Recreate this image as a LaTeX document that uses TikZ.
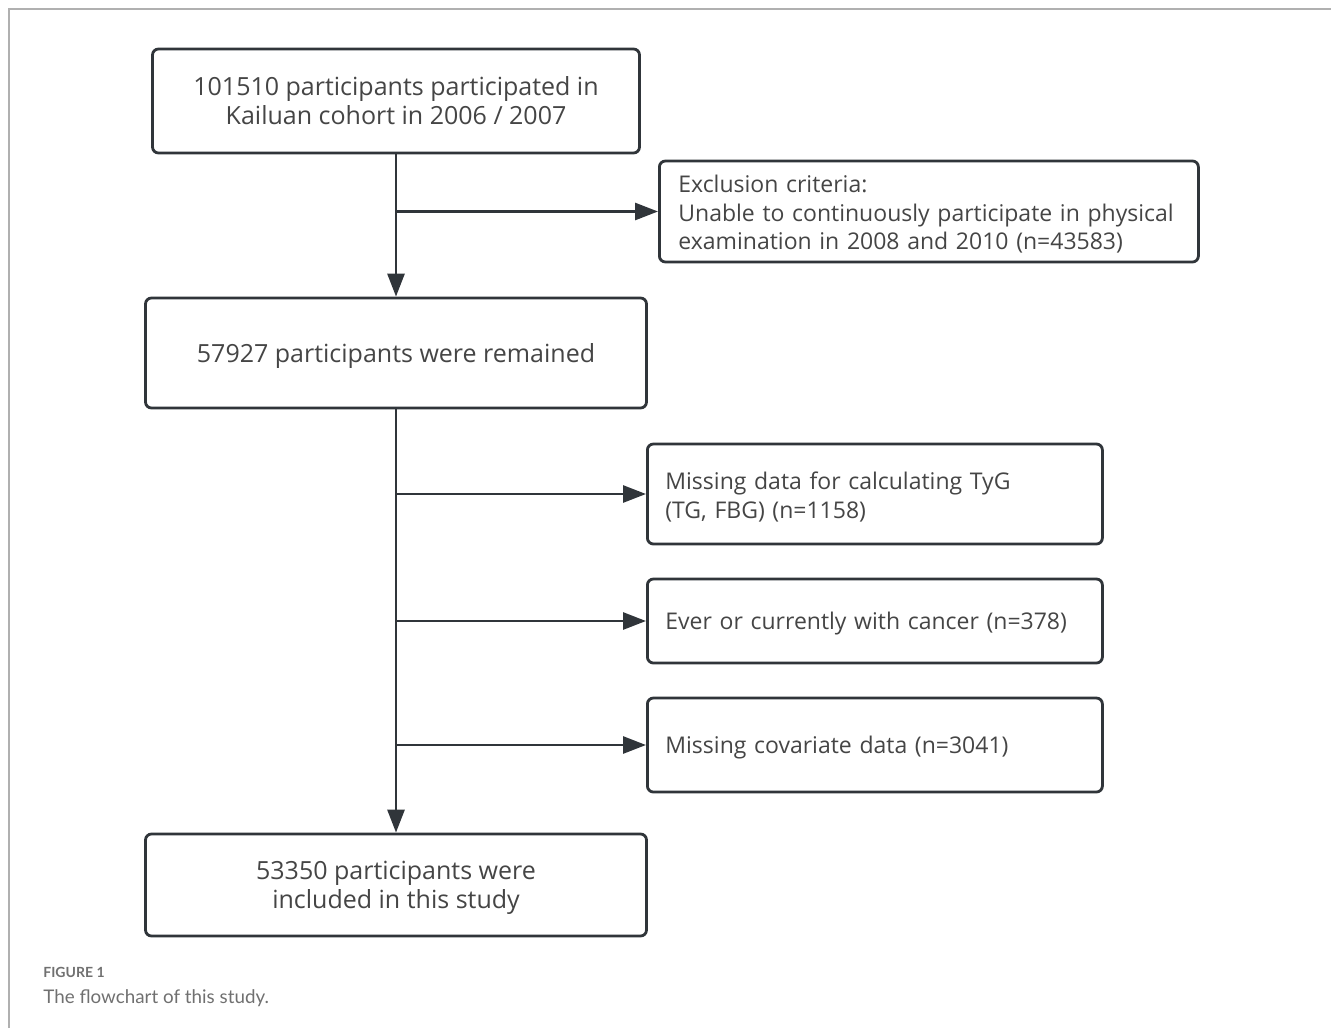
\documentclass[tikz,border=0pt]{standalone}
\usepackage{fontspec}
\setmainfont{Open Sans}
\newfontfamily\capfont{Lato}
\usetikzlibrary{arrows.meta,positioning}
\definecolor{edgecol}{HTML}{30353A}
\definecolor{txtcol}{HTML}{454545}
\definecolor{capcol}{HTML}{707070}
\definecolor{framecol}{HTML}{B0B0B0}
\begin{document}
\begin{tikzpicture}[x=0.5pt,y=-0.5pt,
  box/.style={draw=edgecol, line width=1.4pt, rounded corners=3pt, fill=white,
              text=txtcol, font=\fontsize{11.5}{14.2}\selectfont, align=center},
  mainbox/.style={box, text depth=0pt, font=\fontsize{12.5}{14.5}\selectfont},
  sidebox/.style={box, align=left, anchor=west, text height=11.7pt},
  exbox/.style={sidebox, inner xsep=9pt, text width=209.5pt, minimum height=#1},
  arr/.style={-{Triangle[length=11.5pt,width=8.5pt]}, line width=1.4pt, draw=edgecol},
  frame/.style={draw=framecol, line width=1pt}]
\useasboundingbox (0,0) rectangle (1331,1028);
% ---- frame of the figure ----
\draw[frame] (9,1028) -- (9,9) -- (1331,9);
% ---- main column ----
\node[mainbox, minimum width=243.5pt, minimum height=52pt] (start) at (396,101)
  {101510 participants participated in\\Kailuan cohort in 2006 / 2007};
\node[mainbox, minimum width=250.5pt, minimum height=55pt] (remain) at (396,353)
  {57927 participants were remained};
\node[mainbox, minimum width=250.5pt, minimum height=51pt] (final) at (396,885)
  {53350 participants were\\included in this study};
% ---- exclusions ----
\node[sidebox, inner xsep=9.5pt, text width=250.5pt,
      minimum height=50.5pt] (excl) at (658,211.5)
  {Exclusion criteria:\\Unable to continuously participate in physical\\examination in 2008 and 2010 (n=43583)};
\node[exbox=50pt] (tyg)    at (646,494) {Missing data for calculating TyG\\(TG, FBG) (n=1158)};
\node[exbox=42pt] (cancer) at (646,621) {Ever or currently with cancer (n=378)};
\node[exbox=47pt] (covar)  at (646,745) {Missing covariate data (n=3041)};
% ---- branch points on the trunk ----
\coordinate (b1) at (396,211.5);
\coordinate (b2) at (396,494);
\coordinate (b3) at (396,621);
\coordinate (b4) at (396,745);
% ---- arrows ----
\draw[arr] (start) -- (remain);
\draw[arr] (remain) -- (final);
\draw[arr] (b1) -- (excl);
\draw[arr] (b2) -- (tyg);
\draw[arr] (b3) -- (cancer);
\draw[arr] (b4) -- (covar);
% ---- caption ----
\node[anchor=base west, inner sep=0pt, text=capcol, font=\capfont\bfseries\fontsize{7}{8}\selectfont]
  (figlab) at (43,977) {FIGURE 1};
\node[anchor=base west, inner sep=0pt, text=capcol, font=\capfont\fontsize{9.4}{11}\selectfont]
  (figcap) at (43,1003) {The flowchart of this study.};
\end{tikzpicture}
\end{document}
